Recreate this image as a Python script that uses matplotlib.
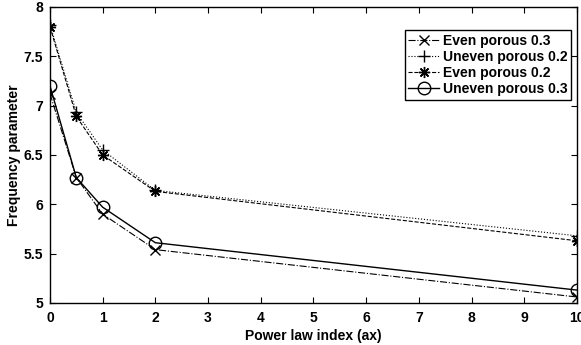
import matplotlib
matplotlib.use('Agg')
import matplotlib.pyplot as plt
from matplotlib.ticker import FuncFormatter

# power law index values
power_index = [0, 0.5, 1, 2, 10]

even_03 = [7.12, 6.27, 5.90, 5.54, 5.06]
uneven_02 = [7.82, 6.93, 6.55, 6.14, 5.68]
even_02 = [7.80, 6.89, 6.50, 6.13, 5.63]
uneven_03 = [7.20, 6.27, 5.97, 5.61, 5.13]

plt.rcParams['font.family'] = 'Liberation Sans'
plt.rcParams['font.weight'] = 'bold'

fig = plt.figure(figsize=(5.81, 3.45), dpi=100)
ax = fig.add_axes([0.086, 0.122, 0.907, 0.858])

ax.plot(power_index, even_03, color='k', linestyle='-.', linewidth=0.8,
        marker='x', markersize=7, label='Even porous 0.3')
ax.plot(power_index, uneven_02, color='k', linestyle=':', linewidth=0.8,
        marker='+', markersize=9, label='Uneven porous 0.2')
ax.plot(power_index, even_02, color='k', linestyle='--', linewidth=0.8,
        marker=(8, 2, 0), markersize=8, label='Even porous 0.2')
ax.plot(power_index, uneven_03, color='k', linestyle='-', linewidth=1.0,
        marker='o', markersize=9, markerfacecolor='none', label='Uneven porous 0.3')

ax.set_xlim(0, 10)
ax.set_ylim(5, 8)
ax.set_xticks(range(0, 11))
ax.set_yticks([5, 5.5, 6, 6.5, 7, 7.5, 8])
ax.yaxis.set_major_formatter(FuncFormatter(lambda v, p: '%g' % v))
ax.tick_params(direction='in', top=True, right=True, labelsize=10, length=4)
ax.tick_params(axis='x', pad=6)
ax.tick_params(axis='y', pad=5)
for s in ax.spines.values():
    s.set_linewidth(1.0)

ax.set_xlabel('Power law index (ax)', fontsize=10, fontweight='bold', labelpad=3)
ax.set_ylabel('Frequency parameter', fontsize=10, fontweight='bold', labelpad=2)

leg = ax.legend(loc='upper right', bbox_to_anchor=(0.997, 0.935), fontsize=10,
                fancybox=False, edgecolor='k', framealpha=1, handlelength=2.2,
                handletextpad=0.3, borderpad=0.25, labelspacing=0.15, borderaxespad=0.3)
leg.get_frame().set_linewidth(1.0)

fig.savefig('out.png', dpi=100)
